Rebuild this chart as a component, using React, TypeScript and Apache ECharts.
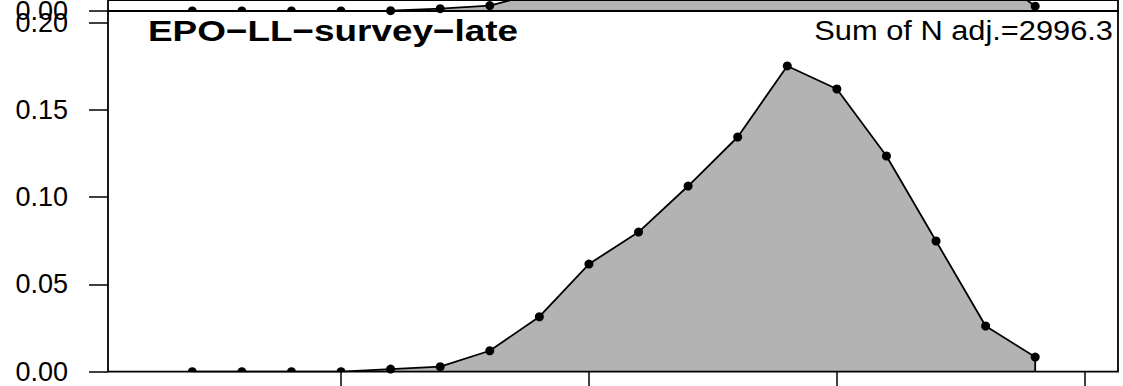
import React, { useEffect, useRef } from "react";
import * as echarts from "echarts";

// Length bins (x) shared by both panels
const bins = [20, 30, 40, 50, 60, 70, 80, 90, 100, 110, 120, 130, 140, 150, 160, 170, 180, 190];
// Lower panel: EPO-LL-survey-late proportions
const lateValues = [0, 0, 0, 0, 0.0015, 0.0029, 0.012, 0.0315, 0.0617, 0.08, 0.1064, 0.1345, 0.1752, 0.162, 0.1236, 0.0749, 0.0262, 0.0084];
// Upper (cropped) panel proportions — only the lowest part is visible
const upperValues = [0, 0, 0, 0, 0.0003, 0.0025, 0.0059, 0.02, 0.045, 0.07, 0.1, 0.13, 0.16, 0.17, 0.14, 0.09, 0.045, 0.0053];
const yTicks = [0, 0.05, 0.1, 0.15, 0.2];
const upperYTicks = [0];
const xTicks = [50, 100, 150, 200];
const panelTitle = "EPO\u2212LL\u2212survey\u2212late";
const sumLabel = "Sum of N adj.=2996.3";

const HALF = "path://M0,10 A10,10 0 0 1 20,10 Z";
const FONT = "Liberation Sans";

function toData(vals: number[]) {
  return bins.map((b, i) =>
    vals[i] === 0
      ? { value: [b, 0], symbol: HALF, symbolSize: [9, 4.5], symbolOffset: [0, -2.25] }
      : [b, vals[i]]
  );
}

function seriesFor(vals: number[], idx: number) {
  const last = bins.length - 1;
  return [
    {
      type: "line",
      xAxisIndex: idx,
      yAxisIndex: idx,
      data: toData(vals),
      symbol: "circle",
      symbolSize: 9,
      showSymbol: true,
      clip: true,
      itemStyle: { color: "#000" },
      lineStyle: { color: "#000", width: 1.8 },
      areaStyle: { color: "#b3b3b3", opacity: 1 },
      z: 3,
    },
    {
      type: "line",
      xAxisIndex: idx,
      yAxisIndex: idx,
      data: [
        [bins[last], vals[last]],
        [bins[last], 0],
      ],
      showSymbol: false,
      symbol: "none",
      clip: true,
      lineStyle: { color: "#000", width: 1.8 },
      z: 4,
    },
  ];
}

export default function App() {
  const ref = useRef<HTMLDivElement>(null);
  useEffect(() => {
    const chart = echarts.init(ref.current as HTMLDivElement, null, { renderer: "svg" });
    const fmt = (v: number) => v.toFixed(2);
    const tickStyle = { color: "#000", width: 1.5 };
    chart.setOption({
      animation: false,
      backgroundColor: "#ffffff",
      textStyle: { fontFamily: FONT },
      grid: [
        { left: 108, right: 5, top: 11, bottom: 14.3, show: true, borderColor: "#000", borderWidth: 1.8, backgroundColor: "rgba(0,0,0,0)", z: 10 },
        { left: 108, right: 5, top: -10, bottom: 375, show: true, borderColor: "#000", borderWidth: 1.8, backgroundColor: "rgba(0,0,0,0)", z: 10 },
      ],
      xAxis: [
        {
          gridIndex: 0, type: "value", min: 3, max: 206.7,
          axisLine: { show: false, onZero: false }, splitLine: { show: false },
          axisLabel: { show: false },
          axisTick: { show: true, customValues: xTicks, length: 16, lineStyle: tickStyle },
        },
        {
          gridIndex: 1, type: "value", min: 3, max: 206.7,
          axisLine: { show: false, onZero: false }, splitLine: { show: false },
          axisLabel: { show: false }, axisTick: { show: false },
        },
      ],
      yAxis: [
        {
          gridIndex: 0, type: "value", min: 0, max: 0.2067,
          axisLine: { show: false }, splitLine: { show: false },
          axisTick: { show: true, customValues: yTicks, length: 19, lineStyle: tickStyle },
          axisLabel: { customValues: yTicks, formatter: fmt, fontSize: 27, color: "#000", margin: 40, fontFamily: FONT },
        },
        {
          gridIndex: 1, type: "value", min: 0, max: 0.01203,
          axisLine: { show: false }, splitLine: { show: false },
          axisTick: { show: true, customValues: upperYTicks, length: 19, lineStyle: tickStyle },
          axisLabel: { customValues: upperYTicks, formatter: fmt, fontSize: 27, color: "#000", margin: 40, fontFamily: FONT },
        },
      ],
      series: [...seriesFor(lateValues, 0), ...seriesFor(upperValues, 1)],
      graphic: [
        {
          type: "text", x: 148, y: 31, scaleX: 1.23, z: 20,
          style: {
            text: panelTitle, fill: "#000",
            font: `bold 30px "${FONT}"`, fontSize: 30, fontWeight: "bold", fontFamily: FONT,
            align: "left", textAlign: "left", verticalAlign: "middle", textVerticalAlign: "middle",
          },
        },
        {
          type: "text", x: 1113, y: 30, scaleX: 1.1, z: 20,
          style: {
            text: sumLabel, fill: "#000",
            font: `28px "${FONT}"`, fontSize: 28, fontFamily: FONT,
            align: "right", textAlign: "right", verticalAlign: "middle", textVerticalAlign: "middle",
          },
        },
      ],
    });
    return () => chart.dispose();
  }, []);
  return (
    <div
      ref={ref}
      style={{ position: "absolute", left: 0, top: 0, width: 1123, height: 386, background: "#fff" }}
    />
  );
}
